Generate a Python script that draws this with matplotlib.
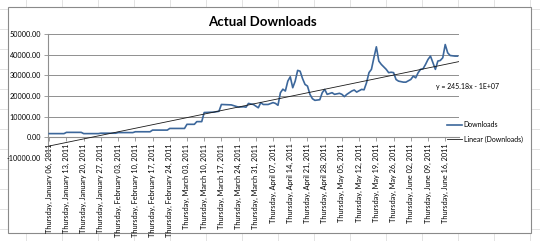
import numpy as np
import pandas as pd
import matplotlib
matplotlib.use("Agg")
import matplotlib.pyplot as plt
from matplotlib.lines import Line2D
from matplotlib.patches import Rectangle

plt.rcParams['font.family'] = ['Lato', 'DejaVu Sans']

# data (daily downloads, 2011)
dates = ['2011-01-06', '2011-01-12', '2011-01-13', '2011-01-19', '2011-01-20', '2011-01-26',
         '2011-01-27', '2011-02-02', '2011-02-03', '2011-02-09', '2011-02-10', '2011-02-16',
         '2011-02-17', '2011-02-23', '2011-02-24', '2011-03-02', '2011-03-03', '2011-03-06',
         '2011-03-07', '2011-03-09', '2011-03-10', '2011-03-14', '2011-03-16', '2011-03-17',
         '2011-03-21', '2011-03-24', '2011-03-26', '2011-03-27', '2011-03-28', '2011-03-30',
         '2011-04-01', '2011-04-02', '2011-04-03', '2011-04-05', '2011-04-07', '2011-04-08',
         '2011-04-09', '2011-04-10', '2011-04-11', '2011-04-12', '2011-04-13', '2011-04-14',
         '2011-04-15', '2011-04-16', '2011-04-17', '2011-04-18', '2011-04-19', '2011-04-20',
         '2011-04-21', '2011-04-22', '2011-04-23', '2011-04-24', '2011-04-26', '2011-04-27',
         '2011-04-28', '2011-04-29', '2011-05-01', '2011-05-02', '2011-05-04', '2011-05-05',
         '2011-05-06', '2011-05-07', '2011-05-09', '2011-05-10', '2011-05-11', '2011-05-13',
         '2011-05-14', '2011-05-15', '2011-05-16', '2011-05-17', '2011-05-18', '2011-05-19',
         '2011-05-20', '2011-05-21', '2011-05-22', '2011-05-23', '2011-05-24', '2011-05-25',
         '2011-05-26', '2011-05-27', '2011-05-28', '2011-05-30', '2011-05-31', '2011-06-02',
         '2011-06-03', '2011-06-04', '2011-06-05', '2011-06-06', '2011-06-07', '2011-06-08',
         '2011-06-09', '2011-06-10', '2011-06-11', '2011-06-12', '2011-06-13', '2011-06-14',
         '2011-06-15', '2011-06-16', '2011-06-17', '2011-06-18', '2011-06-20', '2011-06-21']
downloads = [1800, 1800, 2400, 2400, 1800, 1800,
             2000, 2000, 2300, 2300, 2700, 2700,
             3500, 3500, 4300, 4300, 6300, 6300,
             7600, 7600, 12000, 12200, 12600, 15900,
             15700, 14600, 14800, 14600, 16400, 15900,
             14300, 16800, 15900, 15900, 16800, 16400,
             15500, 21600, 23300, 22400, 27200, 29300,
             24000, 27200, 32400, 32000, 28400, 25600,
             24800, 20800, 18700, 17900, 18200, 21600,
             23200, 20800, 21600, 20800, 21300, 20800,
             19700, 20800, 22400, 22900, 21900, 23200,
             23000, 26400, 31300, 32900, 38500, 43800,
             36900, 35300, 34100, 32900, 31300, 31500,
             31300, 28000, 27200, 26700, 26700, 28000,
             29600, 28800, 31300, 32900, 33200, 35300,
             37700, 39300, 36100, 32900, 36900, 37200,
             38500, 44900, 40900, 39600, 39300, 39300]

# trendline as shown by Excel: y = 245.18x + b, x = Excel serial date
trend_slope = 245.18
trend_intercept = -9946000
excel_epoch = pd.Timestamp('1899-12-30')

start = pd.Timestamp('2011-01-06')
end = pd.Timestamp('2011-06-21')
tick_dates = pd.date_range('2011-01-06', '2011-06-16', freq='7D')
y_ticks = [-10000, 0, 10000, 20000, 30000, 40000, 50000]

d = pd.to_datetime(dates)
x = (d - start).days.values
tx = np.array([-0.5, (end - start).days + 0.6])
serial = tx + (start - excel_epoch).days
trend = trend_slope * serial + trend_intercept

W, H = 540, 241
fig = plt.figure(figsize=(W / 100, H / 100), dpi=100)

# worksheet grid behind the chart
for px in np.arange(26, W, 36):
    fig.add_artist(Line2D([px / W, px / W], [0, 1], color='#dedede', lw=0.6, zorder=0))
for py in np.arange(9, H, 20):
    fig.add_artist(Line2D([0, 1], [1 - py / H, 1 - py / H], color='#dedede', lw=0.6, zorder=0))
fig.add_artist(Rectangle((8 / W, 1 - 233 / H), 523 / W, 226 / H, facecolor='white',
                         edgecolor='#8a8a8a', lw=0.8, zorder=1))

ax = fig.add_axes([48 / W, 1 - 158 / H, 411 / W, 124 / H], zorder=2)
ax.patch.set_alpha(0)

# axis crosses at zero, like Excel (set before ticks: this resets them)
for s in ['top', 'right']:
    ax.spines[s].set_visible(False)
ax.spines['left'].set_color('#8f8f8f')
ax.spines['bottom'].set_position(('data', 0))
ax.spines['bottom'].set_color('#8f8f8f')

ax.plot(x, downloads, color='#3c679b', lw=1.2, label='Downloads', zorder=3)
ax.plot(tx, trend, color='#1a1a1a', lw=0.6, label='Linear (Downloads)', zorder=4)

ax.set_xlim(tx[0], tx[1])
ax.set_ylim(-10000, 50000)
ax.set_yticks(y_ticks)
ax.set_yticklabels([f'{v:.2f}' for v in y_ticks])
ax.yaxis.grid(True, color='#8f8f8f', lw=0.7)
ax.set_axisbelow(True)

ax.set_xticks((tick_dates - start).days.values)
ax.set_xticklabels([t.strftime('%A, %B %d, %Y') for t in tick_dates],
                   rotation=90, va='top', ha='center')

ax.tick_params(axis='y', labelsize=5.2, length=3, width=0.6, color='#8f8f8f', pad=2)
ax.tick_params(axis='x', labelsize=5.3, length=3, width=0.6, color='#8f8f8f', pad=1.5)

fig.text(262 / W, 1 - 22 / H, 'Actual Downloads', ha='center', va='center',
         fontsize=9.5, fontweight='bold')
fig.text(436 / W, 1 - 87 / H, 'y = 245.18x - 1E+07', ha='left', va='center', fontsize=5)

ax.legend(loc='center left', bbox_to_anchor=(447 / W, 1 - 132 / H),
          bbox_transform=fig.transFigure, frameon=False, fontsize=5,
          handlelength=2.2, handletextpad=0.2, labelspacing=1.0, borderpad=0,
          borderaxespad=0)

fig.savefig('out.png', dpi=100)
